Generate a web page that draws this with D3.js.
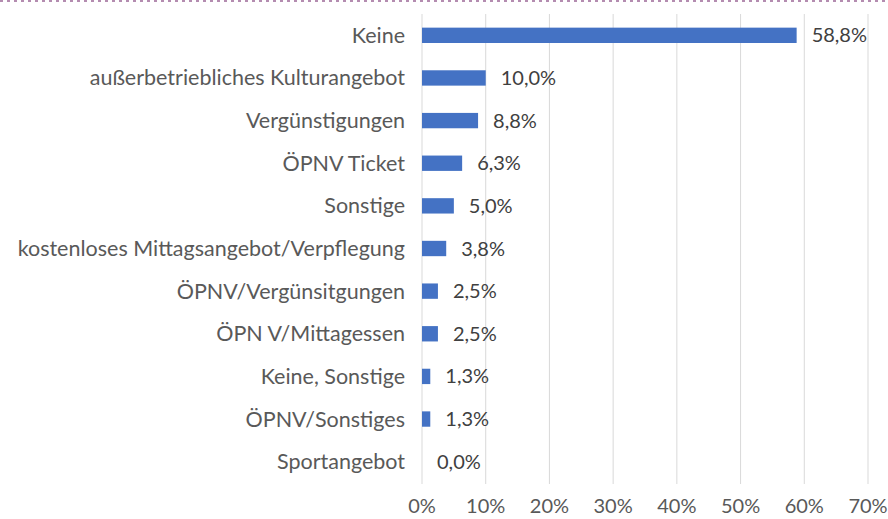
<!DOCTYPE html>
<html>
<head>
<meta charset="utf-8">
<script src="https://cdn.jsdelivr.net/npm/d3@7"></script>
<style>
  body { margin: 0; background: #fff; }
  svg { display: block; font-family: Lato, "Open Sans", sans-serif; }
</style>
</head>
<body>
<svg id="chart" width="888" height="519"></svg>
<script>
// Kategorien und Werte (Prozent)
var kategorien = [
  "Keine",
  "außerbetriebliches Kulturangebot",
  "Vergünstigungen",
  "ÖPNV Ticket",
  "Sonstige",
  "kostenloses Mittagsangebot/Verpflegung",
  "ÖPNV/Vergünsitgungen",
  "ÖPN V/Mittagessen",
  "Keine, Sonstige",
  "ÖPNV/Sonstiges",
  "Sportangebot"
];
var werte = [58.8, 10.0, 8.8, 6.3, 5.0, 3.8, 2.5, 2.5, 1.3, 1.3, 0.0];
var ticks = [0, 10, 20, 30, 40, 50, 60, 70];

var svg = d3.select("#chart");

// gepunktete Linie oben
svg.append("line")
  .attr("x1", 0).attr("x2", 888).attr("y1", 1).attr("y2", 1)
  .attr("stroke", "#b48cb0").attr("stroke-width", 2)
  .attr("stroke-dasharray", "3,4");

var x = d3.scaleLinear().domain([0, 70]).range([422, 868]);
var y = d3.scaleBand().domain(kategorien).range([14, 483]).paddingInner(0.64).paddingOuter(0.32);

// Gitterlinien
svg.append("g").selectAll("line").data(ticks).join("line")
  .attr("x1", function(d) { return x(d); })
  .attr("x2", function(d) { return x(d); })
  .attr("y1", 14).attr("y2", 484)
  .attr("stroke", "#d9d9d9").attr("stroke-width", 1);

// Balken
svg.append("g").selectAll("rect").data(werte).join("rect")
  .attr("x", x(0))
  .attr("y", function(d, i) { return y(kategorien[i]); })
  .attr("width", function(d) { return x(d) - x(0); })
  .attr("height", y.bandwidth())
  .attr("fill", "#4472c4");

// Werte-Beschriftung
svg.append("g").selectAll("text").data(werte).join("text")
  .attr("x", function(d) { return x(d) + 15; })
  .attr("y", function(d, i) { return y(kategorien[i]) + y.bandwidth() / 2; })
  .attr("dy", "0.35em")
  .attr("font-size", 20)
  .attr("fill", "#404040")
  .text(function(d) { return d.toFixed(1).replace(".", ",") + "%"; });

// Kategorien-Achse
svg.append("g").selectAll("text").data(kategorien).join("text")
  .attr("x", 405)
  .attr("y", function(d) { return y(d) + y.bandwidth() / 2; })
  .attr("dy", "0.35em")
  .attr("text-anchor", "end")
  .attr("font-size", 21.5)
  .attr("fill", "#595959")
  .text(function(d) { return d; });

// X-Achse
svg.append("g").selectAll("text").data(ticks).join("text")
  .attr("x", function(d) { return x(d); })
  .attr("y", 506)
  .attr("dy", "0.35em")
  .attr("text-anchor", "middle")
  .attr("font-size", 20)
  .attr("fill", "#595959")
  .text(function(d) { return d + "%"; });
</script>
</body>
</html>
